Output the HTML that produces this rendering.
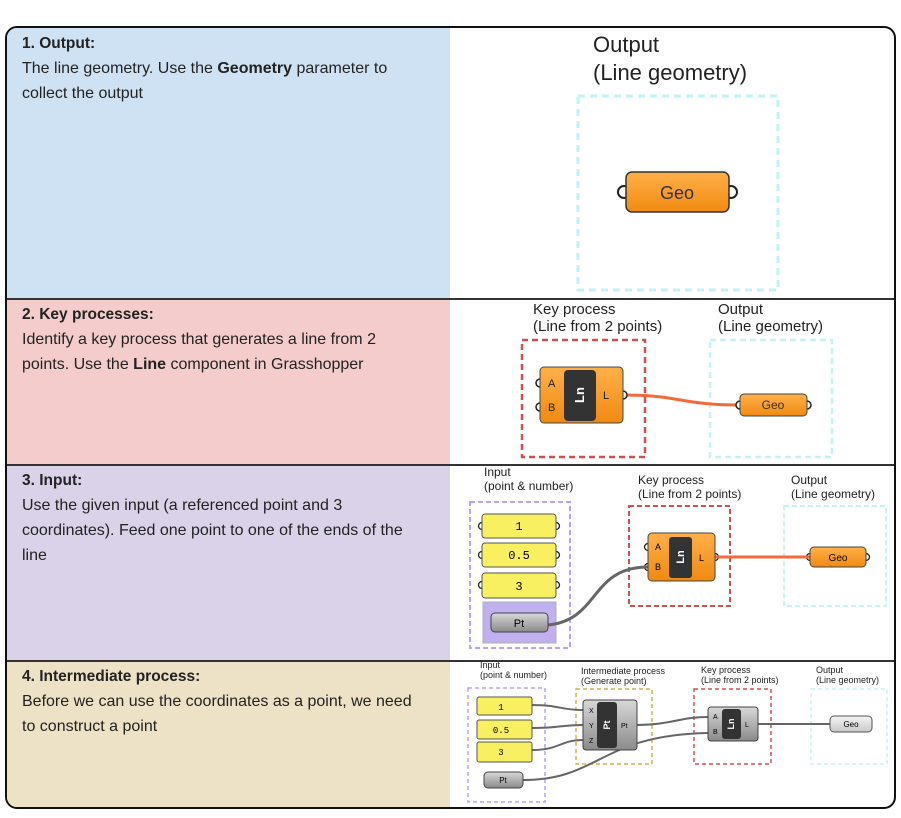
<!DOCTYPE html>
<html><head><meta charset="utf-8"><style>
body{margin:0;background:#fff;width:901px;height:818px;position:relative;overflow:hidden;font-family:"Liberation Sans",sans-serif;}
.frame{position:absolute;left:5px;top:26px;width:887px;height:779px;border:2px solid #111;border-radius:12px;overflow:hidden;background:#fff;}
.cell{position:absolute;left:0;width:443px;box-sizing:border-box;padding:6px 30px 0 15px;font-size:16px;line-height:25px;color:#222;}
.cell b.h{display:block;line-height:20px;margin-bottom:2px;font-size:15.5px}
.hr{position:absolute;left:0;width:887px;height:1.5px;background:#333;}
svg{position:absolute;left:0;top:0}
</style></head><body>
<div class="frame">
<div class="cell" style="top:0;height:271px;background:#cfe2f3"><b class="h">1. Output:</b>The line geometry. Use the <b>Geometry</b> parameter to collect the output</div>
<div class="cell" style="top:271px;height:166px;background:#f4cccc"><b class="h">2. Key processes:</b>Identify a key process that generates a line from 2 points. Use the <b>Line</b> component in Grasshopper</div>
<div class="cell" style="top:437px;height:196px;background:#d9d2e9"><b class="h">3. Input:</b>Use the given input (a referenced point and 3 coordinates). Feed one point to one of the ends of the line</div>
<div class="cell" style="top:633px;height:150px;background:#ede2c6"><b class="h">4. Intermediate process:</b>Before we can use the coordinates as a point, we need to construct a point</div>
<div class="hr" style="top:270px"></div><div class="hr" style="top:436px"></div><div class="hr" style="top:632px"></div>
</div>
<svg width="901" height="818" font-family="Liberation Sans, sans-serif">
<defs>
<linearGradient id="og" x1="0" y1="0" x2="0" y2="1"><stop offset="0" stop-color="#ffb04a"/><stop offset="1" stop-color="#f08a10"/></linearGradient>
<linearGradient id="gg" x1="0" y1="0" x2="0" y2="1"><stop offset="0" stop-color="#d8d8d8"/><stop offset="1" stop-color="#8a8a8a"/></linearGradient>
<linearGradient id="lg" x1="0" y1="0" x2="0" y2="1"><stop offset="0" stop-color="#f4f4f4"/><stop offset="1" stop-color="#c8c8c8"/></linearGradient>
</defs>
<!-- Row1 -->
<text x="593" y="52" font-size="22" fill="#222">Output</text>
<text x="593" y="80" font-size="22" fill="#222">(Line geometry)</text>
<rect x="578" y="96" width="200" height="194" fill="none" stroke="#bff3f7" stroke-width="3" stroke-dasharray="7,5"/>
<circle cx="624" cy="192" r="6" fill="#fff" stroke="#222" stroke-width="2"/><circle cx="731" cy="192" r="6" fill="#fff" stroke="#222" stroke-width="2"/>
<rect x="626" y="172" width="103" height="40" rx="6" fill="url(#og)" stroke="#333" stroke-width="1.5"/>
<text x="677" y="199" font-size="18" text-anchor="middle" fill="#333">Geo</text>
<!-- Row2 -->
<text x="533" y="314" font-size="15" fill="#222">Key process</text><text x="533" y="331" font-size="15" fill="#222">(Line from 2 points)</text>
<text x="718" y="314" font-size="15" fill="#222">Output</text><text x="718" y="331" font-size="15" fill="#222">(Line geometry)</text>
<rect x="522" y="340" width="123" height="117" fill="none" stroke="#d05050" stroke-width="2.5" stroke-dasharray="6,4"/>
<rect x="710" y="340" width="122" height="117" fill="none" stroke="#c6f2f6" stroke-width="2.5" stroke-dasharray="6,4"/>
<path d="M623,395 C680,395 680,405 740,405" stroke="#f26a3a" stroke-width="3" fill="none"/>
<g fill="#fff" stroke="#222" stroke-width="1.5"><circle cx="540" cy="383" r="4"/><circle cx="540" cy="407" r="4"/><circle cx="623" cy="395" r="4"/><circle cx="740" cy="405" r="4"/><circle cx="807" cy="405" r="4"/></g>
<rect x="540" y="367" width="83" height="56" rx="4" fill="url(#og)" stroke="#444"/>
<rect x="564" y="370" width="32" height="51" rx="4" fill="#333"/>
<text x="584" y="395" font-size="13" font-weight="bold" fill="#fff" transform="rotate(-90 584 395)" text-anchor="middle">Ln</text>
<text x="548" y="387" font-size="11" fill="#222">A</text><text x="548" y="411" font-size="11" fill="#222">B</text><text x="603" y="399" font-size="11" fill="#222">L</text>
<rect x="740" y="394" width="67" height="22" rx="4" fill="url(#og)" stroke="#444"/>
<text x="773" y="409" font-size="12" text-anchor="middle" fill="#333">Geo</text>
<!-- Row3 -->
<text x="484" y="476" font-size="12" fill="#222">Input</text><text x="484" y="490" font-size="12" fill="#222">(point &amp; number)</text>
<text x="638" y="484" font-size="12" fill="#222">Key process</text><text x="638" y="498" font-size="12" fill="#222">(Line from 2 points)</text>
<text x="791" y="484" font-size="12" fill="#222">Output</text><text x="791" y="498" font-size="12" fill="#222">(Line geometry)</text>
<rect x="470" y="502" width="100" height="146" fill="none" stroke="#b9a3f5" stroke-width="2" stroke-dasharray="5,3"/>
<rect x="629" y="506" width="101" height="100" fill="none" stroke="#d05050" stroke-width="2" stroke-dasharray="5,3"/>
<rect x="784" y="506" width="102" height="100" fill="none" stroke="#c6f2f6" stroke-width="2" stroke-dasharray="5,3"/>
<g fill="#fff" stroke="#222" stroke-width="1.3"><circle cx="482" cy="526" r="3.5"/><circle cx="556" cy="526" r="3.5"/><circle cx="482" cy="555" r="3.5"/><circle cx="556" cy="555" r="3.5"/><circle cx="482" cy="585" r="3.5"/><circle cx="556" cy="585" r="3.5"/><circle cx="491" cy="622" r="3.5"/><circle cx="548" cy="622" r="3.5"/><circle cx="648" cy="547" r="3.5"/><circle cx="648" cy="567" r="3.5"/><circle cx="715" cy="557" r="3.5"/><circle cx="810" cy="557" r="3.5"/><circle cx="866" cy="557" r="3.5"/></g>
<rect x="482" y="514" width="74" height="24" rx="3" fill="#f8f060" stroke="#555"/><text x="519" y="530" font-size="12" text-anchor="middle" font-family="Liberation Mono, monospace">1</text>
<rect x="482" y="543" width="74" height="24" rx="3" fill="#f8f060" stroke="#555"/><text x="519" y="559" font-size="12" text-anchor="middle" font-family="Liberation Mono, monospace">0.5</text>
<rect x="482" y="573" width="74" height="25" rx="3" fill="#f8f060" stroke="#555"/><text x="519" y="590" font-size="12" text-anchor="middle" font-family="Liberation Mono, monospace">3</text>
<rect x="483" y="602" width="73" height="41" fill="#c0b0f0" stroke="#b0b0b0"/>
<path d="M548,625 C600,620 590,567 648,567" stroke="#666" stroke-width="3" fill="none"/>
<rect x="491" y="613" width="57" height="19" rx="4" fill="url(#gg)" stroke="#444"/><text x="519" y="627" font-size="11" text-anchor="middle">Pt</text>
<path d="M715,557 L810,557" stroke="#f26a3a" stroke-width="3"/>
<rect x="648" y="533" width="67" height="48" rx="4" fill="url(#og)" stroke="#444"/>
<rect x="669" y="537" width="23" height="41" rx="3" fill="#333"/>
<text x="684" y="557" font-size="11" font-weight="bold" fill="#fff" transform="rotate(-90 684 557)" text-anchor="middle">Ln</text>
<text x="655" y="550" font-size="9">A</text><text x="655" y="570" font-size="9">B</text><text x="699" y="561" font-size="9">L</text>
<rect x="810" y="547" width="56" height="20" rx="4" fill="url(#og)" stroke="#444"/><text x="838" y="561" font-size="10" text-anchor="middle">Geo</text>
<!-- Row4 -->
<text x="480" y="668" font-size="9" fill="#222">Input</text><text x="480" y="678" font-size="9" fill="#222">(point &amp; number)</text>
<text x="581" y="674" font-size="9" fill="#222">Intermediate process</text><text x="581" y="684" font-size="9" fill="#222">(Generate point)</text>
<text x="701" y="673" font-size="9" fill="#222">Key process</text><text x="701" y="683" font-size="9" fill="#222">(Line from 2 points)</text>
<text x="816" y="673" font-size="9" fill="#222">Output</text><text x="816" y="683" font-size="9" fill="#222">(Line geometry)</text>
<rect x="468" y="688" width="77" height="114" fill="none" stroke="#b9a3f5" stroke-width="1.5" stroke-dasharray="4,3"/>
<rect x="576" y="689" width="76" height="75" fill="none" stroke="#d4b050" stroke-width="1.5" stroke-dasharray="4,3"/>
<rect x="694" y="689" width="77" height="75" fill="none" stroke="#d05050" stroke-width="1.5" stroke-dasharray="4,3"/>
<rect x="811" y="689" width="76" height="75" fill="none" stroke="#c6f2f6" stroke-width="1.5" stroke-dasharray="4,3"/>
<g stroke="#666" stroke-width="2" fill="none">
<path d="M532,705 C560,705 560,710 583,710"/><path d="M532,728 C560,728 560,725 583,725"/><path d="M532,750 C560,750 560,740 583,740"/>
<path d="M523,780 C600,780 600,735 708,733"/><path d="M637,725 C670,725 680,717 708,717"/><path d="M758,724 L830,724"/>
</g>
<rect x="477" y="697" width="55" height="18" rx="2" fill="#f8f060" stroke="#555"/><text x="501" y="710" font-size="9" text-anchor="middle" font-family="Liberation Mono, monospace">1</text>
<rect x="477" y="720" width="55" height="19" rx="2" fill="#f8f060" stroke="#555"/><text x="501" y="733" font-size="9" text-anchor="middle" font-family="Liberation Mono, monospace">0.5</text>
<rect x="477" y="742" width="55" height="20" rx="2" fill="#f8f060" stroke="#555"/><text x="501" y="755" font-size="9" text-anchor="middle" font-family="Liberation Mono, monospace">3</text>
<rect x="484" y="772" width="39" height="16" rx="4" fill="url(#gg)" stroke="#444"/><text x="503" y="783" font-size="8" text-anchor="middle">Pt</text>
<rect x="583" y="700" width="54" height="50" rx="3" fill="url(#gg)" stroke="#444"/>
<rect x="597" y="702" width="20" height="46" rx="3" fill="#333"/>
<text x="610" y="725" font-size="9" font-weight="bold" fill="#fff" transform="rotate(-90 610 725)" text-anchor="middle">Pt</text>
<text x="589" y="713" font-size="7">X</text><text x="589" y="728" font-size="7">Y</text><text x="589" y="743" font-size="7">Z</text><text x="621" y="728" font-size="7">Pt</text>
<rect x="708" y="707" width="50" height="34" rx="3" fill="url(#gg)" stroke="#444"/>
<rect x="722" y="709" width="19" height="30" rx="3" fill="#333"/>
<text x="734" y="724" font-size="9" font-weight="bold" fill="#fff" transform="rotate(-90 734 724)" text-anchor="middle">Ln</text>
<text x="713" y="719" font-size="7">A</text><text x="713" y="734" font-size="7">B</text><text x="745" y="727" font-size="7">L</text>
<rect x="830" y="716" width="42" height="16" rx="4" fill="url(#lg)" stroke="#555"/><text x="851" y="727" font-size="8" text-anchor="middle">Geo</text>
</svg>
</body></html>
